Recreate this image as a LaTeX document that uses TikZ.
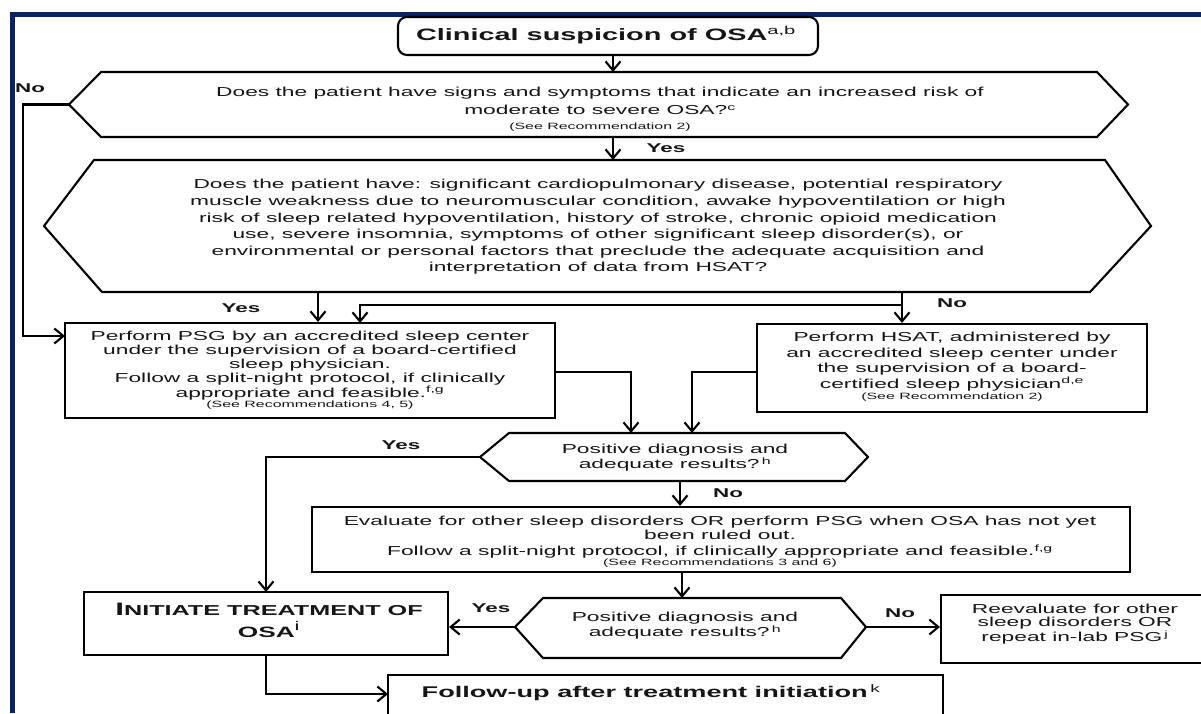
\documentclass[tikz,border=0pt]{standalone}
\usepackage{fontspec}
\setmainfont{Liberation Sans}[FakeStretch=1.75]
\usetikzlibrary{arrows.meta}
\definecolor{navy}{RGB}{8,34,98}
\definecolor{ink}{RGB}{22,22,22}
\newcommand\smtxt[1]{{\fontsize{9.1}{9.5}\selectfont #1}}
\newcommand\sups[1]{\textsuperscript{#1}}
\newcommand\scs{\fontsize{14.4}{16}\selectfont}
\newcommand\osz{\fontsize{15}{16}\selectfont}
\tikzset{
  shp/.style={draw=black, line width=2.1pt, line join=miter},
  box/.style={draw=black, line width=2.1pt, inner sep=0pt},
  arr/.style={draw=black, line width=2.1pt, -{Straight Barb[length=9pt,width=15pt]}},
  body/.style={font=\fontsize{13}{#1}\selectfont, align=center, text=ink, inner sep=0pt},
  body/.default=15,
  lbl/.style={font=\bfseries\fontsize{12.8}{14}\selectfont, text=ink, inner sep=0pt},
  ttl/.style={font=\bfseries\fontsize{16.5}{18}\selectfont, text=ink, inner sep=0pt, align=center},
}
\begin{document}
\begin{tikzpicture}[x=1pt,y=-1pt]
\useasboundingbox (0,0) rectangle (1201,713);
\clip (0,0) rectangle (1201,713);
\fill[white] (0,0) rectangle (1201,713);
\fill[navy] (10,12) rectangle (1201,16.5);
\fill[navy] (10,12) rectangle (14.5,713);

% top box
\node[box, rounded corners=9pt, minimum width=420pt, minimum height=38pt] (top) at (608,36) {};
\node[ttl] (topT) at (606,35) {Clinical suspicion of OSA\sups{\mdseries a,b}};

% hexagon 1
\coordinate (h1L) at (69,104.5);
\coordinate (h1TL) at (101,72);
\coordinate (h1TR) at (1097,72);
\coordinate (h1R) at (1128,104.5);
\coordinate (h1BR) at (1097,137);
\coordinate (h1BL) at (101,137);
\draw[shp] (h1L) -- (h1TL) -- (h1TR) -- (h1R) -- (h1BR) -- (h1BL) -- cycle;
\node[body=18.5] (h1T) at (600,109) {Does the patient have signs and symptoms that indicate an increased risk of\\ moderate to severe OSA?\sups{c}\\[-4pt] \smtxt{(See Recommendation 2)}};

% hexagon 2
\coordinate (h2L) at (44,226);
\coordinate (h2TL) at (94,160);
\coordinate (h2TR) at (1105,160);
\coordinate (h2R) at (1151,226);
\coordinate (h2BR) at (1090,292);
\coordinate (h2BL) at (102,292);
\draw[shp] (h2L) -- (h2TL) -- (h2TR) -- (h2R) -- (h2BR) -- (h2BL) -- cycle;
\node[body=16.6] (h2T) at (598,227) {Does the patient have: significant cardiopulmonary disease, potential respiratory\\ muscle weakness due to neuromuscular condition, awake hypoventilation or high\\ risk of sleep related hypoventilation, history of stroke, chronic opioid medication\\ use, severe insomnia, symptoms of other significant sleep disorder(s), or\\ environmental or personal factors that preclude the adequate acquisition and\\ interpretation of data from HSAT?};

% PSG box
\node[box, minimum width=490pt, minimum height=95pt] (psg) at (310,370.5) {};
\node[body=14.3] (psgT) at (310,370) {Perform PSG by an accredited sleep center\\ under the supervision of a board-certified\\ sleep physician.\\ Follow a split-night protocol, if clinically\\ appropriate and feasible.\sups{f,g}\\[-4pt] \smtxt{(See Recommendations 4, 5)}};

% HSAT box
\node[box, minimum width=390pt, minimum height=88pt] (hsat) at (952,368) {};
\node[body=15.5] (hsatT) at (952,367) {Perform HSAT, administered by\\ an accredited sleep center under\\ the supervision of a board-\\ certified sleep physician\sups{d,e}\\[-4pt] \smtxt{(See Recommendation 2)}};

% hexagon 3
\coordinate (h3L) at (480,457);
\coordinate (h3TL) at (509,433);
\coordinate (h3TR) at (845,433);
\coordinate (h3R) at (868,457);
\coordinate (h3BR) at (845,481);
\coordinate (h3BL) at (509,481);
\draw[shp] (h3L) -- (h3TL) -- (h3TR) -- (h3R) -- (h3BR) -- (h3BL) -- cycle;
\node[body=15] (h3T) at (675,458) {Positive diagnosis and\\ adequate results?\,\sups{h}};

% Evaluate box
\node[box, minimum width=818pt, minimum height=65pt] (eval) at (721,539.5) {};
\node[body=14.3] (evalT) at (720,542) {Evaluate for other sleep disorders OR perform PSG when OSA has not yet\\ been ruled out.\\[1.5pt] Follow a split-night protocol, if clinically appropriate and feasible.\sups{f,g}\\[-4pt] \smtxt{(See Recommendations 3 and 6)}};

% hexagon 4
\coordinate (h4L) at (515,627);
\coordinate (h4TL) at (543,598);
\coordinate (h4TR) at (841,598);
\coordinate (h4R) at (866,627);
\coordinate (h4BR) at (841,658);
\coordinate (h4BL) at (543,658);
\draw[shp] (h4L) -- (h4TL) -- (h4TR) -- (h4R) -- (h4BR) -- (h4BL) -- cycle;
\node[body=15] (h4T) at (685,626) {Positive diagnosis and\\ adequate results?\,\sups{h}};

% Reevaluate box
\node[box, minimum width=280pt, minimum height=68pt] (reev) at (1081,629) {};
\node[body=13.5] (reevT) at (1075,624) {Reevaluate for other\\ sleep disorders OR\\ repeat in-lab PSG\,\sups{j}};

% Initiate box
\node[box, minimum width=364pt, minimum height=63pt] (init) at (266,623.5) {};
\node[ttl, font=\bfseries\fontsize{18}{22}\selectfont] (initT) at (269,620) {I{\scs NITIATE TREATMENT OF}\\ {\osz OSA}\sups{\mdseries i}};

% Follow-up box
\node[box, minimum width=555pt, minimum height=70pt] (fol) at (665.5,710) {};
\node[ttl, font=\bfseries\fontsize{15.5}{18}\selectfont] (folT) at (651,693) {Follow-up after treatment initiation\,\sups{\mdseries k}};

% labels
\node[lbl, anchor=west] (lNo1) at (15,88) {No};
\node[lbl] (lYes1) at (666,148) {Yes};
\node[lbl] (lYes2) at (241,308) {Yes};
\node[lbl] (lNo2) at (952,303) {No};
\node[lbl] (lYes3) at (401,445) {Yes};
\node[lbl] (lNo3) at (728,493) {No};
\node[lbl] (lYes4) at (491,608) {Yes};
\node[lbl] (lNo4) at (900,613) {No};

% connectors
\coordinate (c1) at (613,72);
\draw[arr] (top.south -| c1) -- (c1);
\coordinate (c2a) at (613,137);
\coordinate (c2b) at (613,160);
\draw[arr] (c2a) -- (c2b);
\coordinate (noIn) at (65,336);
\draw[arr] (h1L) -- (23,104.5) |- (noIn);
\coordinate (y2a) at (318,292);
\draw[arr] (y2a) -- (psg.north -| y2a);
\coordinate (n2a) at (902,292);
\draw[arr] (n2a) -- (hsat.north -| n2a);
\coordinate (split) at (902,305);
\coordinate (psgIn2) at (360,323);
\draw[arr] (split) -| (psgIn2);
\coordinate (psgOut) at (555,372);
\coordinate (h3In1) at (631,433);
\draw[arr] (psgOut) -| (h3In1);
\coordinate (hsatOut) at (757,372);
\coordinate (h3In2) at (692,433);
\draw[arr] (hsatOut) -| (h3In2);
\coordinate (initIn) at (266,592);
\draw[arr] (h3L) -| (initIn);
\coordinate (h3Out) at (680,481);
\draw[arr] (h3Out) -- (eval.north -| h3Out);
\coordinate (evalOut) at (682,572);
\coordinate (h4In) at (682,598);
\draw[arr] (evalOut) -- (h4In);
\draw[arr] (h4L) -- (init.east |- h4L);
\draw[arr] (h4R) -- (reev.west |- h4R);
\coordinate (initOut) at (266,655);
\coordinate (folIn) at (388,694);
\draw[arr] (initOut) |- (folIn);
\end{tikzpicture}
\end{document}
